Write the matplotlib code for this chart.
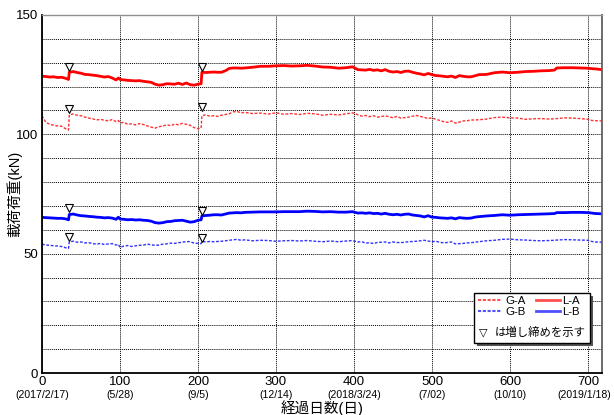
import matplotlib
matplotlib.use("Agg")
import matplotlib.pyplot as plt
from matplotlib.patches import Rectangle
from matplotlib.lines import Line2D
from matplotlib.transforms import offset_copy

plt.rcParams['font.family'] = ['Liberation Sans', 'Noto Sans CJK JP', 'DejaVu Sans']

# 経過日数
days = [0, 5, 10, 15, 20, 25, 30, 34, 35,
        40, 45, 50, 55, 60, 65, 70, 75, 80, 85, 90, 95, 98,
        100, 105, 110, 115, 120, 125, 130, 135, 140, 145, 150, 155, 160, 165, 170, 175, 180, 185, 190, 195, 200,
        204, 205,
        210, 215, 220, 225, 230, 235, 240, 245, 250, 255, 260,
        270, 280, 290, 300, 310, 320, 330, 340, 350, 360, 370, 380, 390, 398,
        405, 410, 415, 420, 425, 430, 435, 440, 445, 450, 455, 460, 465, 470, 475, 480,
        485, 490, 495, 500, 505, 510, 515, 520, 525, 530, 535, 540, 545, 550, 555, 560,
        570, 580, 590, 600, 610, 620, 630, 640, 650, 657,
        660, 670, 680, 690, 700, 705, 710, 718]

la = [124.4, 124.2, 124.0, 124.1, 123.8, 123.9, 123.5, 123.0, 126.0,
      126.3, 125.9, 125.6, 125.1, 125.0, 124.8, 124.6, 124.3, 124.0, 124.2, 123.6, 122.8, 123.6,
      123.0, 122.8, 122.6, 122.5, 122.4, 122.5, 122.2, 122.0, 121.8, 121.0, 120.6, 120.8, 121.2, 121.1, 121.0,
      121.4, 120.9, 121.5, 120.8, 120.6, 121.0,
      121.2, 126.0,
      125.9, 126.0, 126.1, 126.0, 126.0, 126.6, 127.6, 127.8, 127.8, 127.7, 127.8,
      128.1, 128.5, 128.5, 128.7, 128.8, 128.6, 128.7, 128.9, 128.6, 128.2, 128.1, 127.7, 127.9, 128.3,
      127.1, 127.0, 126.9, 127.2, 126.8, 127.0, 126.6, 127.1, 126.4, 126.1, 126.3, 125.9, 126.4, 126.5, 126.0, 125.6,
      125.3, 124.9, 125.5, 125.0, 124.6, 124.5, 124.3, 124.1, 124.4, 123.8, 124.6, 124.3, 124.1, 124.1, 124.5, 125.0,
      125.1, 125.8, 126.1, 125.8, 126.0, 126.3, 126.4, 126.6, 126.7, 126.9,
      127.8, 127.9, 127.9, 127.8, 127.7, 127.5, 127.4, 127.1]

ga = [107.8, 105.0, 104.2, 103.8, 103.5, 103.4, 102.4, 101.8, 108.2,
      108.5, 108.0, 107.8, 107.2, 106.8, 106.5, 106.0, 106.3, 105.9, 105.6, 106.2, 105.3, 105.8,
      104.8, 105.0, 104.2, 104.4, 103.9, 104.5, 104.1, 103.5, 103.0, 102.6, 103.2, 103.5, 104.0, 103.6, 104.3,
      104.0, 104.6, 104.2, 103.8, 102.8, 102.4,
      102.6, 107.8,
      108.2, 107.6, 107.8, 107.5, 108.0, 108.3, 108.6, 109.4, 109.6, 109.0, 109.2,
      108.7, 108.9, 108.5, 109.0, 108.4, 108.7, 108.3, 108.8, 108.6, 108.0, 108.4, 108.1, 108.6, 109.0,
      108.2, 107.6, 107.9, 107.4, 107.8, 107.2, 107.5, 107.7, 107.4, 106.9, 107.5, 106.8, 107.0, 107.2, 107.6, 107.9,
      107.5, 107.1, 106.6, 106.9, 106.3, 105.8, 105.3, 105.0, 105.6, 104.7, 105.1, 105.6, 105.7, 106.0, 106.0, 106.1,
      106.4, 107.0, 107.2, 106.9, 106.8, 106.3, 106.5, 106.6, 106.4, 106.5,
      106.6, 106.9, 106.8, 106.6, 106.3, 105.8, 105.7, 105.6]

lb = [65.2, 65.1, 65.0, 64.9, 64.8, 64.8, 64.6, 64.2, 66.4,
      66.6, 66.2, 65.9, 65.8, 65.6, 65.5, 65.3, 65.2, 65.0, 65.1, 64.9, 64.4, 65.3,
      64.5, 64.4, 64.2, 64.3, 64.1, 64.2, 64.0, 63.9, 63.6, 63.0, 62.8, 63.0, 63.4, 63.5, 63.8,
      63.9, 64.0, 63.6, 63.2, 63.4, 64.0,
      64.2, 65.8,
      66.0, 66.1, 66.3, 66.3, 66.2, 66.6, 67.0, 67.1, 67.2, 67.1, 67.3,
      67.4, 67.5, 67.5, 67.5, 67.6, 67.6, 67.6, 67.8, 67.7, 67.5, 67.6, 67.4, 67.4, 67.6,
      67.0, 67.1, 66.9, 67.1, 66.8, 66.9, 66.6, 66.9, 66.5, 66.3, 66.5, 66.2, 66.5, 66.6, 66.2, 66.0,
      65.8, 65.4, 65.9, 65.3, 65.2, 65.0, 64.9, 64.8, 65.0, 64.6, 65.1, 64.9, 64.8, 64.9, 65.3, 65.5,
      65.8, 66.0, 66.3, 66.1, 66.3, 66.4, 66.5, 66.6, 66.7, 66.8,
      67.2, 67.2, 67.3, 67.3, 67.2, 67.0, 66.8, 66.7]

gb = [54.0, 53.6, 53.5, 53.3, 53.2, 53.0, 52.5, 52.2, 55.0,
      55.2, 54.8, 54.9, 54.5, 54.6, 54.2, 54.0, 54.3, 53.8, 54.1, 54.2, 53.6, 53.9,
      52.6, 53.2, 53.4, 53.0, 53.3, 53.5, 53.6, 54.0, 53.7, 53.5, 53.6, 54.0, 54.1, 54.4, 54.3,
      54.6, 54.8, 55.1, 55.0, 54.4, 54.3,
      54.2, 55.2,
      54.9, 55.1, 55.0, 55.1, 55.2, 55.4, 55.6, 55.8, 56.0, 55.6, 55.8,
      55.4, 55.6, 55.5, 55.2, 55.4, 55.5, 55.3, 55.5, 55.2, 55.0, 55.3, 55.0, 55.3, 55.5,
      54.9, 55.0, 54.4, 54.6, 54.2, 54.7, 54.8, 54.9, 54.5, 54.9, 54.7, 54.6, 54.8, 55.0, 55.1, 55.2,
      55.4, 55.6, 55.3, 55.0, 55.2, 54.8, 54.5, 54.7, 54.9, 54.1, 54.2, 54.3, 54.5, 54.6, 54.8, 55.0,
      55.4, 55.6, 56.0, 56.1, 55.8, 55.7, 55.5, 55.4, 55.5, 55.6,
      55.7, 55.9, 55.8, 55.7, 55.6, 55.1, 54.9, 54.8]

# 増し締めの位置 (▽)
mark_days = [35, 205]
la_mark = [128.3, 128.3]
ga_mark = [110.5, 111.3]
lb_mark = [69.3, 68.0]
gb_mark = [56.8, 56.7]

xticks = [0, 100, 200, 300, 400, 500, 600, 700]
date_labels = ['(2017/2/17)', '(5/28)', '(9/5)', '(12/14)', '(2018/3/24)', '(7/02)', '(10/10)', '(2019/1/18)']

fig = plt.figure(figsize=(6.14, 4.15), dpi=100)
ax = fig.add_axes([0.0684, 0.1012, 0.9121, 0.8627])

ax.plot(days, ga, color='#ff3030', lw=1.0, ls=(0, (2, 1.2)), label='G-A')
ax.plot(days, gb, color='#3030ff', lw=1.0, ls=(0, (2, 1.2)), label='G-B')
ax.plot(days, la, color='#ff0000', lw=2.0, label='L-A')
ax.plot(days, lb, color='#0000ff', lw=2.0, label='L-B')

for m in [la_mark, ga_mark, lb_mark, gb_mark]:
    ax.plot(mark_days, m, ls='none', marker='v', ms=6, mfc='white', mec='black', mew=0.8)

ax.set_xlim(0, 718)
ax.set_ylim(0, 150)
ax.set_xticks(xticks)
ax.set_yticks([0, 50, 100, 150])
ax.set_yticks(range(0, 151, 10), minor=True)
ax.tick_params(which='both', length=0, labelsize=9.5)
ax.tick_params(axis='x', pad=2)
ax.tick_params(axis='y', pad=3)
ax.grid(True, which='both', axis='y', color='black', ls=(0, (1, 1)), lw=0.7)
ax.grid(True, which='major', axis='x', color='black', ls=(0, (1, 1)), lw=0.7)
ax.set_axisbelow(True)

# 日付 (2段目のラベル) - 右端のものは図の外に出ないよう少し左へ
for i, (x, d) in enumerate(zip(xticks, date_labels)):
    shift = -4 if i == len(xticks) - 1 else 0
    tr = offset_copy(ax.get_xaxis_transform(), fig=fig, x=shift, y=0, units='dots')
    ax.text(x, -0.062, d, transform=tr, ha='center', va='center', fontsize=7.6)

for s in ['left', 'bottom']:
    ax.spines[s].set_color('black')
    ax.spines[s].set_linewidth(1.3)
ax.spines['right'].set_color('#606060')
ax.spines['right'].set_linewidth(1.3)
ax.spines['top'].set_color('#909090')
ax.spines['top'].set_linewidth(1.0)

ax.set_ylabel('載荷荷重(kN)', fontsize=10.5)
ax.yaxis.set_label_coords(-0.036, 0.5)
ax.set_xlabel('経過日数(日)', fontsize=10.5)
ax.xaxis.set_label_coords(0.5, -0.075)

# 凡例の枠 (影付き)
bx, by, bw, bh = 0.771, 0.084, 0.208, 0.139
shadow = Rectangle((bx, by), bw, bh, transform=offset_copy(ax.transAxes, fig=fig, x=3, y=-3, units='dots'),
                   fc='#555555', ec='none', zorder=5)
box = Rectangle((bx, by), bw, bh, transform=ax.transAxes, fc='white', ec='black', lw=1.0, zorder=6)
ax.add_patch(shadow)
ax.add_patch(box)

handles = [Line2D([], [], color='#ff5050', lw=1.5, ls=(0, (1.5, 0.8))),
           Line2D([], [], color='#5050ff', lw=1.5, ls=(0, (1.5, 0.8))),
           Line2D([], [], color='#ff5050', lw=2.0),
           Line2D([], [], color='#5050ff', lw=2.0)]
leg = ax.legend(handles, ['G-A', 'G-B', 'L-A', 'L-B'], ncol=2, frameon=False, fontsize=8.2,
                loc='upper left', bbox_to_anchor=(0.775, 0.222), borderpad=0.2, borderaxespad=0,
                handlelength=2.1, handletextpad=0.25, columnspacing=0.9, labelspacing=0.1)
leg.set_zorder(7)
ax.text(0.787, 0.112, '▽', transform=ax.transAxes, ha='center', va='center', fontsize=8,
        family=['DejaVu Sans'], zorder=7)
ax.text(0.808, 0.112, 'は増し締めを示す', transform=ax.transAxes, ha='left', va='center', fontsize=8.2,
        family=['Noto Sans CJK JP'], zorder=7)

fig.savefig('out.png', dpi=100)
